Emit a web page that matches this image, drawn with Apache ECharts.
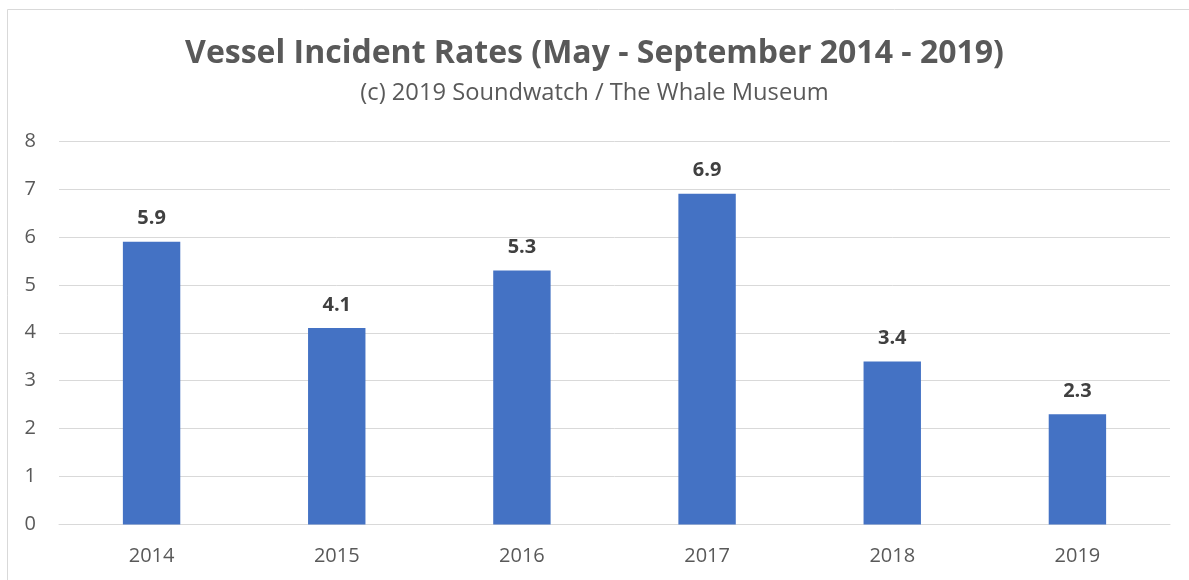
<!DOCTYPE html>
<html>
<head>
<meta charset="utf-8">
<script src="https://cdn.jsdelivr.net/npm/echarts@6/dist/echarts.min.js"></script>
<style>
  html, body { margin: 0; padding: 0; background: #fff; }
  #chart { width: 1189px; height: 580px; }
</style>
</head>
<body>
<div id="chart"></div>
<script>
// Vessel incident rates by season year
const years = ['2014', '2015', '2016', '2017', '2018', '2019'];
const rates = [5.9, 4.1, 5.3, 6.9, 3.4, 2.3];
const yTicks = [0, 1, 2, 3, 4, 5, 6, 7, 8];

const FONT = '"Open Sans", "Liberation Sans", sans-serif';

const chart = echarts.init(document.getElementById('chart'));
chart.setOption({
  animation: false,
  backgroundColor: '#ffffff',
  graphic: [{
    type: 'rect',
    shape: { x: 7.5, y: 9.5, width: 1200, height: 600 },
    style: { fill: 'none', stroke: '#d9d9d9', lineWidth: 1 },
    silent: true
  }],
  title: [{
    text: 'Vessel Incident Rates (May - September 2014 - 2019)',
    left: 'center',
    top: 33,
    textStyle: { fontFamily: FONT, fontWeight: 'bold', fontSize: 32, color: '#595959' }
  }, {
    text: '(c) 2019 Soundwatch / The Whale Museum',
    left: 'center',
    top: 76,
    textStyle: { fontFamily: FONT, fontWeight: 'normal', fontSize: 23.7, color: '#595959' }
  }],
  grid: { left: 59, right: 19, top: 141, bottom: 55.5 },
  xAxis: {
    type: 'category',
    data: years,
    axisLine: { show: true, lineStyle: { color: '#d9d9d9', width: 1 } },
    axisTick: { show: false },
    axisLabel: { margin: 22, fontFamily: FONT, fontSize: 20, color: '#595959' }
  },
  yAxis: {
    type: 'value',
    min: yTicks[0],
    max: yTicks[yTicks.length - 1],
    interval: 1,
    axisLine: { show: false },
    axisTick: { show: false },
    axisLabel: { margin: 23, fontFamily: FONT, fontSize: 20, color: '#595959' },
    splitLine: { lineStyle: { color: '#d9d9d9', width: 1 } }
  },
  series: [{
    type: 'bar',
    data: rates,
    barWidth: '31%',
    itemStyle: { color: '#4472C4' },
    label: {
      show: true,
      position: 'top',
      distance: 13,
      fontFamily: FONT,
      fontWeight: 'bold',
      fontSize: 20,
      color: '#404040',
      formatter: p => p.value.toFixed(1)
    }
  }]
});
</script>
</body>
</html>
